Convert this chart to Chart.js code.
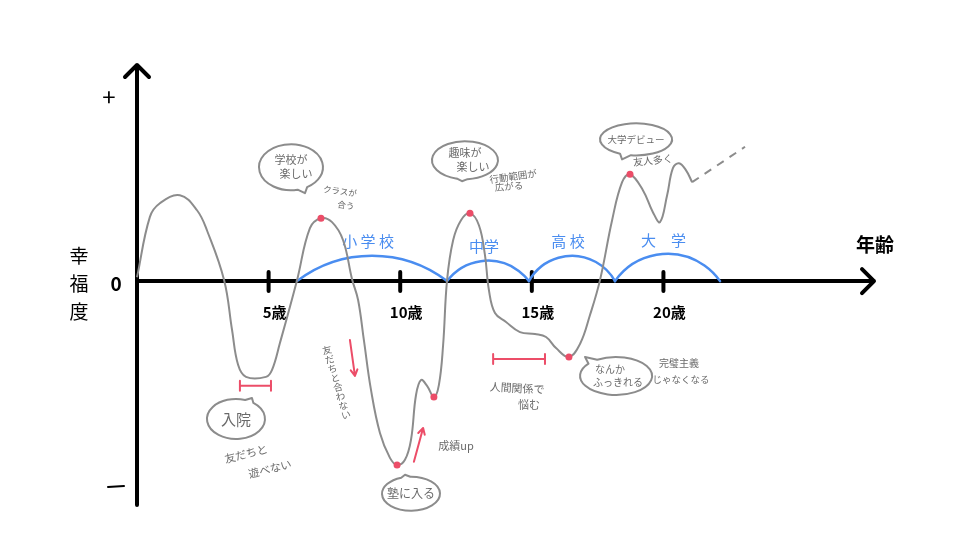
<!DOCTYPE html>
<html>
<head>
<meta charset="utf-8">
<script src="https://cdn.jsdelivr.net/npm/chart.js@4.4.1/dist/chart.umd.min.js"></script>
<style>
  html, body { margin: 0; background: #fff; }
  #wrap { width: 960px; height: 560px; }
</style>
</head>
<body>
<div id="wrap"><canvas id="lifeChart" width="960" height="560"></canvas></div>
<script>
// age (years) and happiness (-100 .. +100)
const ages = [0, 0.49, 0.87, 1.63, 2.28, 2.66, 3.31, 3.61, 3.84, 4.14, 4.90, 5.13, 5.43, 6.08, 6.57, 6.99, 7.41, 7.83,
    8.17, 8.40, 8.62, 8.89, 9.23, 9.61, 9.88, 10.18, 10.41, 10.60, 10.79, 11.02, 11.28, 11.47, 11.63, 11.78, 12.01,
    12.31, 12.65, 12.99, 13.22, 13.37, 13.60, 14.02, 14.55, 15.12, 15.54, 15.92, 16.41, 16.83, 17.21, 17.59, 18.05,
    18.43, 18.73, 19.22, 19.60, 19.87, 20.14, 20.36, 20.59, 20.86, 21.09];
const happiness = [2, 33, 40, 44.1, 36.4, 26, 0.5, -25, -43, -49.2, -49.2, -45.6, -31.8, 0.5, 27.2, 32.3, 30.3, 21,
    1, -9.7, -30.3, -55.9, -78, -90.8, -94.4, -91.8, -81.5, -58.5, -50.8, -53.8, -59.5, -53.3, -32.8, 0.5, 21,
    31.3, 34.9, 28.7, 13.3, -4.6, -16.4, -21, -26.2, -27.2, -28.7, -34.4, -39, -32.3, -17.4, 0.5, 31.3,
    50.8, 54.9, 46.7, 35.4, 30.3, 44.1, 58, 60.5, 56.9, 50.8];
const eventAges = [6.99, 9.88, 11.28, 12.65, 16.41, 18.73];
const futureAges = [21.09, 23.1];
const futureHappiness = [50.8, 69];

const tickAges = [5, 10, 15, 20];
const tickLabels = ['5歳', '10歳', '15歳', '20歳'];

const schoolNames = ['小 学 校', '中学', '高 校', '大　学'];
const schoolStart = [6.08, 11.78, 14.89, 18.16];
const schoolEnd = [11.78, 14.89, 18.16, 22.15];
const schoolArc = [13, 10.5, 13, 14];

const bubbles = [
    {lines: ['学校が', '楽しい'], age: 5.85, value: 58.5},
    {lines: ['趣味が', '楽しい'], age: 12.46, value: 62.1},
    {lines: ['大学デビュー'], age: 18.96, value: 72.8},
    {lines: ['入院'], age: 3.76, value: -70.8},
    {lines: ['塾に入る'], age: 10.41, value: -109.2},
    {lines: ['なんか', 'ふっきれる'], age: 18.20, value: -48.7}
];
const notes = [
    {text: 'クラスが', age: 7.71, value: 46.2},
    {text: '合う', age: 7.94, value: 39.0},
    {text: '行動範囲が', age: 14.29, value: 53.8},
    {text: '広がる', age: 14.13, value: 48.7},
    {text: '友人多く', age: 19.60, value: 62.1},
    {text: '友だちと', age: 4.14, value: -88.7},
    {text: '遊べない', age: 5.05, value: -96.4},
    {text: '成績up', age: 12.12, value: -84.6},
    {text: '人間関係で', age: 14.44, value: -54.9},
    {text: '悩む', age: 14.89, value: -63.6},
    {text: '完璧主義', age: 20.59, value: -42.1},
    {text: 'じゃなくなる', age: 20.67, value: -50.3}
];
const verticalNote = {text: '友だちと合わない', from: [7.22, -35.4], to: [7.94, -68.7]};
const redRanges = [{from: 3.91, to: 5.09, value: -53.8}, {from: 13.53, to: 15.50, value: -40}];
const redArrows = [{from: [8.09, -30.3], to: [8.28, -48.7]}, {from: [10.52, -92.8], to: [10.87, -75.4]}];

// looks, kept apart from the data
const GRAY = '#8c8c8c';
const TEXT_GRAY = '#6a6a6a';
const RED = '#ec4d68';
const BLUE = '#4a8df0';
const JP = '"Noto Sans CJK JP", "Noto Sans", sans-serif';
const bubbleShape = [
    {rx: 32, ry: 23, tail: [14, 26], size: 11, dx: [0, 5]},
    {rx: 33, ry: 19, tail: [-3, 21], size: 11, dx: [0, 8]},
    {rx: 36, ry: 16, tail: [-14, 20], size: 9.5, dx: [0]},
    {rx: 29, ry: 20, tail: [16, -21], size: 15, dx: [0]},
    {rx: 29, ry: 17, tail: [-6, -19], size: 12, dx: [0]},
    {rx: 36, ry: 19, tail: [-31, -19], size: 10, dx: [-6, 2]}
];
const noteStyle = [
    {size: 8.5, rot: 8}, {size: 8.5, rot: 8}, {size: 9.5, rot: -8}, {size: 9.5, rot: -4}, {size: 10, rot: -6},
    {size: 11, rot: -14}, {size: 11, rot: -14}, {size: 11, rot: 0}, {size: 11, rot: 3}, {size: 11, rot: 0},
    {size: 10, rot: 0}, {size: 9.5, rot: 0}
];

function pt(chart, a, v) {
    return [chart.scales.x.getPixelForValue(a), chart.scales.y.getPixelForValue(v)];
}

const sketchPlugin = {
    id: 'sketch',
    beforeDatasetsDraw(chart) {
        const {ctx, scales: {x, y}} = chart;
        const x0 = x.getPixelForValue(0), y0 = y.getPixelForValue(0);
        const xEnd = x.getPixelForValue(x.max), yTop = y.getPixelForValue(y.max), yBot = y.getPixelForValue(y.min);
        ctx.save();
        ctx.strokeStyle = '#000';
        ctx.lineWidth = 4;
        ctx.lineCap = 'round';
        ctx.lineJoin = 'round';
        ctx.beginPath();
        ctx.moveTo(x0, yBot); ctx.lineTo(x0, yTop);
        ctx.moveTo(x0 - 12, yTop + 12); ctx.lineTo(x0, yTop); ctx.lineTo(x0 + 12, yTop + 12);
        ctx.moveTo(x0, y0); ctx.lineTo(xEnd, y0);
        ctx.moveTo(xEnd - 12, y0 - 12); ctx.lineTo(xEnd, y0); ctx.lineTo(xEnd - 12, y0 + 12);
        ctx.stroke();

        ctx.fillStyle = '#000';
        ctx.textAlign = 'center';
        ctx.textBaseline = 'middle';
        ctx.font = 'bold 15px ' + JP;
        tickAges.forEach((a, i) => {
            const tx = x.getPixelForValue(a);
            ctx.beginPath(); ctx.moveTo(tx, y0 - 9); ctx.lineTo(tx, y0 + 10); ctx.stroke();
            ctx.fillText(tickLabels[i], tx + 6, y0 + 31);
        });
        ctx.font = 'bold 19px ' + JP;
        ctx.fillText('年齢', xEnd + 1, y0 - 36);
        ctx.fillText('0', x0 - 21, y0 + 3);
        ctx.font = '19px ' + JP;
        ['幸', '福', '度'].forEach((c, i) => ctx.fillText(c, x0 - 58, y0 - 25 + i * 28));
        ctx.font = '24px ' + JP;
        ctx.fillText('+', x0 - 28, yTop + 32);
        ctx.lineWidth = 2;
        ctx.beginPath(); ctx.moveTo(x0 - 29, yBot - 18); ctx.lineTo(x0 - 13, yBot - 19); ctx.stroke();

        // school arcs
        ctx.strokeStyle = BLUE;
        ctx.fillStyle = BLUE;
        ctx.lineWidth = 2.5;
        ctx.font = '15px ' + JP;
        schoolNames.forEach((name, i) => {
            const x1 = x.getPixelForValue(schoolStart[i]), x2 = x.getPixelForValue(schoolEnd[i]);
            const h = y0 - y.getPixelForValue(schoolArc[i]);
            const c = x2 - x1;
            const r = (c * c / 4 + h * h) / (2 * h);
            const cx = (x1 + x2) / 2, cy = y0 - h + r;
            const half = Math.asin((c / 2) / r);
            ctx.beginPath();
            ctx.arc(cx, cy, r, -Math.PI / 2 - half, -Math.PI / 2 + half);
            ctx.stroke();
            ctx.fillText(name, cx - 4, y0 - h - 14);
        });
        ctx.restore();
    },
    afterDatasetsDraw(chart) {
        const {ctx} = chart;
        ctx.save();
        ctx.lineCap = 'round';
        ctx.lineJoin = 'round';
        ctx.textAlign = 'center';
        ctx.textBaseline = 'middle';

        // red range bars and arrows
        ctx.strokeStyle = RED;
        ctx.lineWidth = 2;
        redRanges.forEach(r => {
            const [a, yy] = pt(chart, r.from, r.value), [b] = pt(chart, r.to, r.value);
            ctx.beginPath();
            ctx.moveTo(a, yy); ctx.lineTo(b, yy);
            ctx.moveTo(a, yy - 5); ctx.lineTo(a, yy + 5);
            ctx.moveTo(b, yy - 5); ctx.lineTo(b, yy + 5);
            ctx.stroke();
        });
        redArrows.forEach(r => {
            const [ax, ay] = pt(chart, r.from[0], r.from[1]), [bx, by] = pt(chart, r.to[0], r.to[1]);
            const ang = Math.atan2(by - ay, bx - ax);
            ctx.beginPath();
            ctx.moveTo(ax, ay); ctx.lineTo(bx, by);
            ctx.moveTo(bx - 7 * Math.cos(ang - 0.5), by - 7 * Math.sin(ang - 0.5));
            ctx.lineTo(bx, by);
            ctx.lineTo(bx - 7 * Math.cos(ang + 0.5), by - 7 * Math.sin(ang + 0.5));
            ctx.stroke();
        });

        // speech bubbles
        ctx.strokeStyle = GRAY;
        ctx.lineWidth = 2;
        bubbles.forEach((b, i) => {
            const s = bubbleShape[i];
            const [cx, cy] = pt(chart, b.age, b.value);
            const th = Math.atan2(s.tail[1] / s.ry, s.tail[0] / s.rx);
            ctx.beginPath();
            ctx.ellipse(cx, cy, s.rx, s.ry, 0, th + 0.16, th - 0.16 + Math.PI * 2);
            ctx.lineTo(cx + s.tail[0], cy + s.tail[1]);
            ctx.lineTo(cx + s.rx * Math.cos(th + 0.16), cy + s.ry * Math.sin(th + 0.16));
            ctx.stroke();
            ctx.fillStyle = TEXT_GRAY;
            ctx.font = s.size + 'px ' + JP;
            const lh = s.size + 3;
            b.lines.forEach((t, j) => {
                ctx.fillText(t, cx + s.dx[j], cy + (j - (b.lines.length - 1) / 2) * lh);
            });
        });

        // loose notes
        ctx.fillStyle = TEXT_GRAY;
        notes.forEach((n, i) => {
            const st = noteStyle[i];
            const [nx, ny] = pt(chart, n.age, n.value);
            ctx.save();
            ctx.translate(nx, ny);
            ctx.rotate(st.rot * Math.PI / 180);
            ctx.font = st.size + 'px ' + JP;
            ctx.fillText(n.text, 0, 0);
            ctx.restore();
        });
        const [vx1, vy1] = pt(chart, verticalNote.from[0], verticalNote.from[1]);
        const [vx2, vy2] = pt(chart, verticalNote.to[0], verticalNote.to[1]);
        const chars = [...verticalNote.text];
        ctx.font = '9.5px ' + JP;
        chars.forEach((c, i) => {
            const t = i / (chars.length - 1);
            ctx.save();
            ctx.translate(vx1 + (vx2 - vx1) * t, vy1 + (vy2 - vy1) * t);
            ctx.rotate(-0.25);
            ctx.fillText(c, 0, 0);
            ctx.restore();
        });
        ctx.restore();
    }
};

new Chart('lifeChart', {
    type: 'line',
    data: {
        datasets: [
            {
                data: eventAges.map(a => ({x: a, y: happiness[ages.indexOf(a)]})),
                showLine: false,
                pointRadius: 3.5,
                pointBackgroundColor: RED,
                pointBorderWidth: 0
            },
            {
                data: ages.map((a, i) => ({x: a, y: happiness[i]})),
                borderColor: GRAY,
                borderWidth: 2,
                tension: 0.4,
                pointRadius: 0,
                clip: false
            },
            {
                data: futureAges.map((a, i) => ({x: a, y: futureHappiness[i]})),
                borderColor: GRAY,
                borderWidth: 2,
                borderDash: [8, 7],
                pointRadius: 0
            }
        ]
    },
    options: {
        responsive: false,
        animation: false,
        layout: {padding: {left: 137, right: 86, top: 65, bottom: 55}},
        scales: {
            x: {type: 'linear', min: 0, max: 28, display: false},
            y: {min: -115, max: 111, display: false}
        },
        plugins: {legend: {display: false}, tooltip: {enabled: false}}
    },
    plugins: [sketchPlugin]
});
</script>
</body>
</html>
